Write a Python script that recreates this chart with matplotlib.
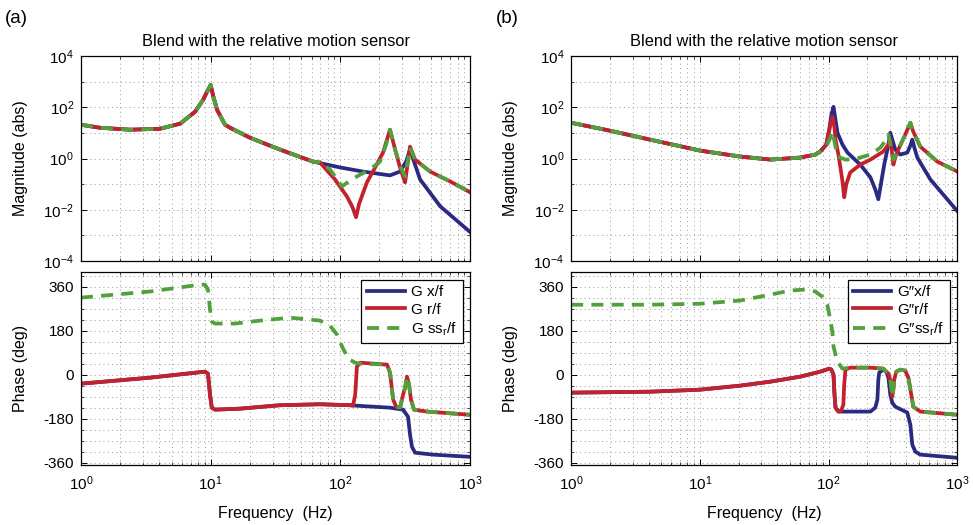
import numpy as np
import matplotlib
matplotlib.use("Agg")
import matplotlib.pyplot as plt
from matplotlib.ticker import FixedLocator, LogLocator, MultipleLocator, NullFormatter

plt.rcParams['font.family'] = ['Liberation Sans', 'DejaVu Sans']
plt.rcParams['mathtext.fontset'] = 'custom'
plt.rcParams['mathtext.rm'] = 'Liberation Sans'
plt.rcParams['mathtext.it'] = 'Liberation Sans:italic'
plt.rcParams['axes.unicode_minus'] = False
plt.rcParams['font.size'] = 10.5

BLUE  = '#2b2a82'
RED   = '#c4212e'
GREEN = '#52a03c'

# ---------------- panel (a): magnitude ----------------
fa_low = [1.0, 1.40, 2.39, 4.06, 5.80, 7.57, 8.73, 9.36, 10.0, 10.4, 11.2, 12.9, 14.1, 20.1, 34.2, 61.5]
ma_low = [20.9, 16.0, 13.4, 14.6, 22.9, 66.9, 195, 400, 748, 306, 80, 20.9, 16.0, 6.5, 2.24, 0.76]

fa_x = [99.3, 149, 241, 288, 321, 344, 376, 411, 587, 1000]
ma_x = [0.45, 0.31, 0.22, 0.31, 0.76, 2.24, 0.58, 0.153, 0.0137, 0.00134]

fa_r = [69.6, 90.8, 112, 123, 132, 139, 160, 178, 213, 241, 264, 288, 315, 344, 376, 491, 700, 1000]
ma_r = [0.70, 0.153, 0.0334, 0.0137, 0.0051, 0.0164, 0.117, 0.31, 1.71, 13.4, 2.24, 0.45, 0.117, 2.92, 0.91, 0.31, 0.128, 0.048]

fa_s = [69.6, 83.2, 94.1, 103, 119, 134, 169, 202, 225, 241, 264, 288, 315, 344, 376, 491, 700, 1000]
ma_s = [0.70, 0.374, 0.153, 0.0818, 0.140, 0.200, 0.374, 0.76, 3.5, 13.4, 2.24, 0.53, 0.20, 2.67, 0.91, 0.31, 0.128, 0.048]

# ---------------- panel (a): phase ----------------
fpa_low = [1.0, 3.40, 9.03, 9.53, 9.88, 10.2, 10.8, 16.8, 34.2, 69.6, 119]
pa_low  = [-36.8, -12.3, 12.3, 4, -82, -135, -143, -139, -125, -121, -125]

fpa_r = [125, 130, 134, 142, 229, 241, 255, 269, 288, 304, 315, 326, 338, 350, 369, 466, 1000]
pa_r  = [-127, -82, 33, 49, 41, 8, -102, -131, -135, -82, -53, -8, -41, -102, -143, -151, -164]

fpa_x = [134, 241, 304, 332, 344, 356, 376, 517, 1000]
pa_x  = [-127, -135, -143, -172, -245, -295, -319, -327, -336]

fpa_s = [1.0, 3.40, 8.27, 9.03, 9.53, 9.88, 10.2, 10.8, 15.4, 24.0, 40.9, 58.3, 69.6, 83.2, 94.1, 103, 115, 130, 142, 229]
pa_s  = [315, 340, 368, 368, 348, 266, 217, 209, 209, 221, 233, 225, 221, 200, 164, 115, 65, 49, 45, 41]

# ---------------- panel (b): magnitude ----------------
fb_low = [1.0, 2.01, 4.11, 10.0, 20.5, 35.2, 60.1, 78.7, 86.0]
mb_low = [25.0, 12.2, 5.47, 2.05, 1.20, 0.91, 1.09, 1.43, 1.87]

fb_x = [95.8, 101, 105, 109, 113, 117, 128, 140, 176, 211, 230, 243, 252, 270, 291, 301, 312, 329, 360, 408, 431, 446, 463, 488, 616, 1000]
mb_x = [3.50, 13.4, 51.2, 105, 32.7, 10.2, 3.50, 1.71, 0.58, 0.183, 0.0625, 0.0256, 0.075, 0.58, 3.50, 10.2, 5.47, 2.24, 1.43, 1.71, 3.2, 5.47, 2.67, 1.09, 0.153, 0.00875]

fb_r = [95.8, 103, 107, 111, 113, 119, 123, 128, 132, 137, 147, 176, 211, 265, 291, 301, 312, 318, 329, 347, 393, 431, 454, 515, 698, 1000]
mb_r = [3.50, 20.9, 42.8, 16.0, 5.47, 1.43, 0.49, 0.128, 0.0306, 0.098, 0.286, 0.58, 0.91, 1.87, 3.50, 5.47, 1.43, 0.58, 1.09, 2.24, 8.55, 25.0, 11.2, 2.92, 0.76, 0.31]

fb_s = [95.8, 103, 107, 111, 117, 135, 155, 211, 252, 280, 291, 301, 318, 329, 347]
mb_s = [2.92, 6.5, 11.2, 4.57, 1.20, 0.91, 0.91, 1.43, 2.67, 5.47, 8.55, 3.50, 0.91, 1.20, 2.24]

# ---------------- panel (b): phase ----------------
fpb_low = [1.0, 4.11, 10.0, 20.5, 35.2, 60.1, 86.0, 101, 105, 109, 111, 113, 119]
pb_low  = [-73.6, -69.6, -61.4, -45, -28.6, -8.2, 12.3, 24.5, 20.5, 0, -82, -135, -151]

fpb_r = [125, 130, 132, 135, 147, 211, 265, 291, 301, 312, 318, 323, 335, 360, 393, 416, 438, 454, 515, 1000]
pb_r  = [-147, -123, -41, 20.5, 28.6, 28.6, 24.5, 4, -20.5, -90, -61, -20.5, 12.3, 20.5, 16.4, -12.3, -82, -131, -151, -164]

fpb_x = [211, 230, 239, 243, 247, 265, 280, 291, 301, 312, 329, 408, 431, 446, 471, 515, 1000]
pb_x  = [-151, -135, -102, -20.5, 8.2, 20.5, 12.3, -12.3, -82, -115, -131, -155, -205, -286, -315, -327, -340]

fpb_s = [1.0, 4.11, 10.0, 20.5, 35.2, 50.3, 65.8, 78.7, 89.2, 97.5, 103, 107, 109, 113, 117, 128, 147]
pb_s  = [286, 286, 290, 303, 327, 344, 348, 340, 319, 286, 225, 172, 115, 82, 53, 24.5, 28.6]

LW = 2.7
DASH = (3.2, 2.2)


def styleCommon(ax):
    ax.set_xscale('log')
    ax.set_xlim(1, 1000)
    ax.xaxis.set_major_locator(FixedLocator([1, 10, 100, 1000]))
    ax.xaxis.set_minor_locator(LogLocator(base=10, subs=np.arange(2, 10)))
    ax.xaxis.set_minor_formatter(NullFormatter())
    ax.grid(True, which='both', color='#9a9a9a', linestyle=(0, (1, 3.5)), linewidth=0.7)
    ax.tick_params(which='both', direction='in', top=True, right=True, labelsize=11)
    ax.tick_params(which='major', length=4, width=0.7)
    ax.tick_params(which='minor', length=2, width=0.5)
    ax.tick_params(axis='x', pad=7)
    ax.tick_params(axis='y', pad=5)
    for s in ax.spines.values():
        s.set_linewidth(0.9)


def styleMag(ax, title):
    styleCommon(ax)
    ax.set_yscale('log')
    ax.set_ylim(1e-4, 1e4)
    ax.yaxis.set_major_locator(FixedLocator([1e-4, 1e-2, 1, 1e2, 1e4]))
    ax.yaxis.set_minor_locator(FixedLocator([1e-3, 1e-1, 1e1, 1e3]))
    ax.yaxis.set_minor_formatter(NullFormatter())
    ax.set_xticklabels([])
    ax.set_ylabel('Magnitude (abs)', fontsize=11.5, labelpad=11)
    ax.set_title(title, fontsize=11.8, pad=7)


def stylePhase(ax):
    styleCommon(ax)
    ax.set_ylim(-370, 420)
    ax.yaxis.set_major_locator(MultipleLocator(180))
    ax.yaxis.set_minor_locator(MultipleLocator(45))
    ax.set_ylabel('Phase (deg)', fontsize=11.5, labelpad=11)
    ax.set_xlabel('Frequency  (Hz)', fontsize=11.5, labelpad=9)


fig = plt.figure(figsize=(9.73, 5.25), dpi=100)
ax1 = fig.add_axes([0.0832, 0.503, 0.400, 0.390])
ax2 = fig.add_axes([0.0832, 0.114, 0.400, 0.368])
ax3 = fig.add_axes([0.587, 0.503, 0.397, 0.390])
ax4 = fig.add_axes([0.587, 0.114, 0.397, 0.368])

# (a) magnitude
ax1.plot(fa_low + fa_x, ma_low + ma_x, color=BLUE, lw=LW)
ax1.plot(fa_low + fa_r, ma_low + ma_r, color=RED, lw=LW)
ax1.plot(fa_low + fa_s, ma_low + ma_s, color=GREEN, lw=LW, dashes=DASH)
styleMag(ax1, 'Blend with the relative motion sensor')

# (a) phase
ax2.plot(fpa_low + fpa_x, pa_low + pa_x, color=BLUE, lw=LW, label='G x/f')
ax2.plot(fpa_low + fpa_r, pa_low + pa_r, color=RED, lw=LW, label='G r/f')
ax2.plot(fpa_s + fpa_r[5:], pa_s + pa_r[5:], color=GREEN, lw=LW, dashes=DASH,
         label='G ss$_{\\mathregular{r}}$/f')
stylePhase(ax2)

# (b) magnitude
ax3.plot(fb_low + fb_x, mb_low + mb_x, color=BLUE, lw=LW)
ax3.plot(fb_low + fb_r, mb_low + mb_r, color=RED, lw=LW)
ax3.plot(fb_low + fb_s + fb_r[20:], mb_low + mb_s + mb_r[20:], color=GREEN, lw=LW, dashes=DASH)
styleMag(ax3, 'Blend with the relative motion sensor')

# (b) phase
ax4.plot(fpb_low + fpb_x, pb_low + pb_x, color=BLUE, lw=LW, label='G\u2033x/f')
ax4.plot(fpb_low + fpb_r, pb_low + pb_r, color=RED, lw=LW, label='G\u2033r/f')
ax4.plot(fpb_s + fpb_r[5:], pb_s + pb_r[5:], color=GREEN, lw=LW, dashes=DASH,
         label='G\u2033ss$_{\\mathregular{r}}$/f')
stylePhase(ax4)

for ax in (ax2, ax4):
    leg = ax.legend(loc='upper right', fontsize=11, fancybox=False, framealpha=1,
                    edgecolor='black', handlelength=2.5, borderaxespad=0.5,
                    labelspacing=0.25, borderpad=0.35, handletextpad=0.4)
    leg.get_frame().set_linewidth(0.9)

fig.text(0.005, 0.965, '(a)', fontsize=13.5, va='center')
fig.text(0.510, 0.965, '(b)', fontsize=13.5, va='center')

fig.savefig('out.png', dpi=100)
